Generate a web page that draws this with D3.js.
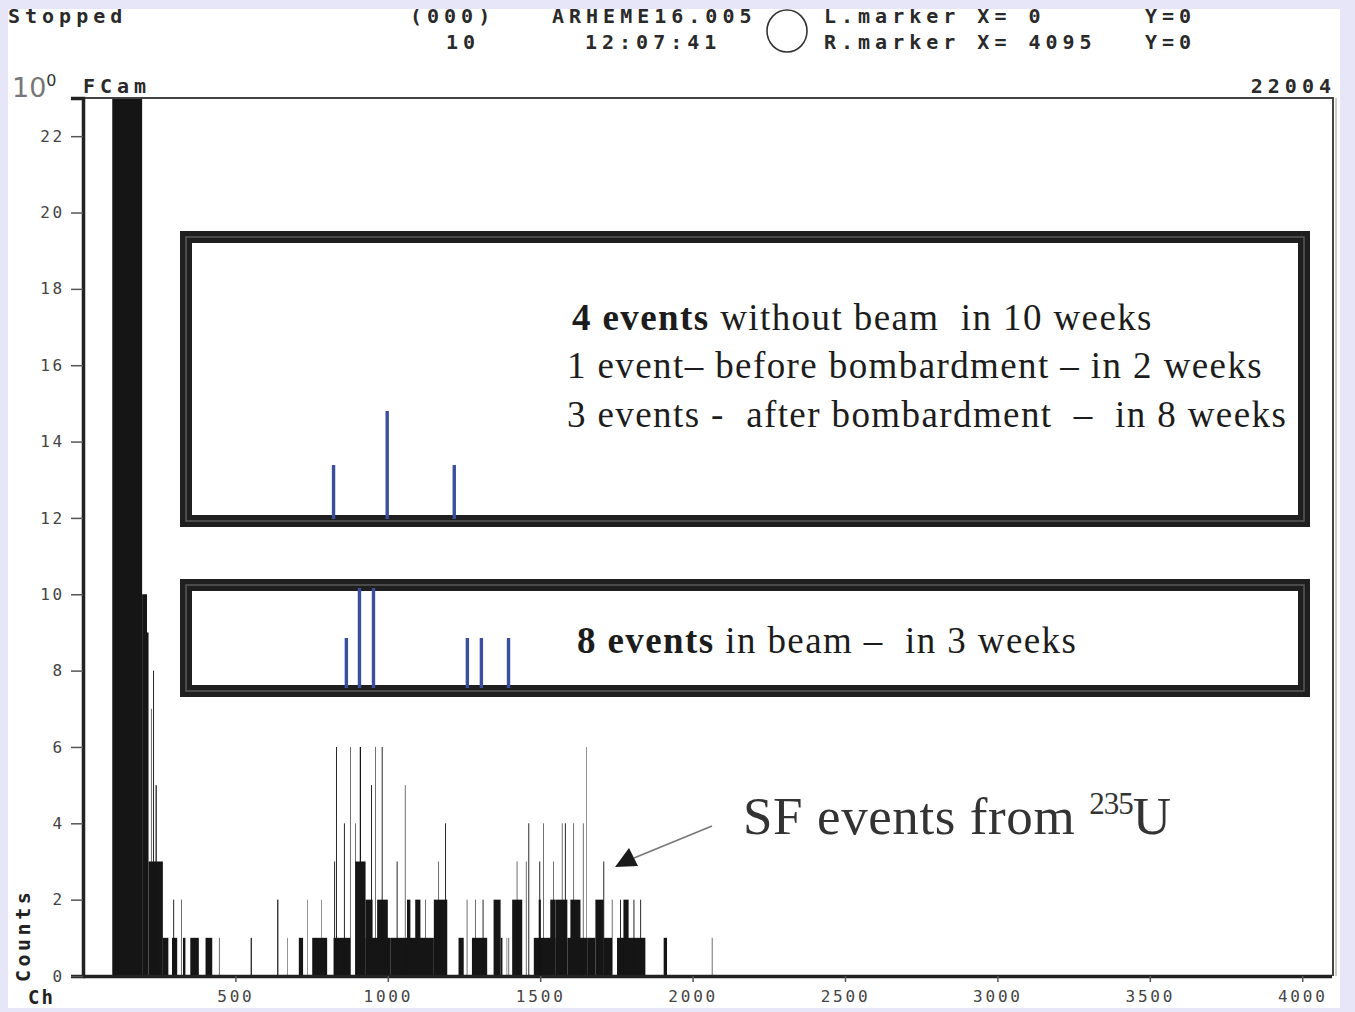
<!DOCTYPE html>
<html>
<head>
<meta charset="utf-8">
<script src="https://cdn.jsdelivr.net/npm/d3@7"></script>
<style>
  html, body { margin: 0; padding: 0; background: #e6e6f8; }
  #chart { position: absolute; left: 0; top: 0; }
</style>
</head>
<body>
<div id="chart"></div>
<script>
// histogram segments: [channel start, channel end, counts]
const spectrumSegments = [
  [96, 194, 180], [194, 210, 10], [210, 215, 9], [215, 262, 3], [223, 225, 7],
  [230, 233, 8], [238, 242, 5], [262, 280, 1], [292, 309, 1], [296, 299, 2],
  [322, 324, 2], [328, 336, 1], [352, 380, 1], [402, 424, 1], [446, 448, 1],
  [550, 554, 1], [637, 641, 2], [671, 672.5, 1], [708, 722, 1], [735, 736.5, 2],
  [752, 801, 1], [781, 782.5, 2], [822, 877, 1], [824, 827, 3], [830, 833, 6],
  [856, 859, 4], [877, 879, 6], [893, 895, 4], [893, 927, 3], [908, 912, 6],
  [927, 1008, 1], [927, 950, 2], [965, 1000, 2], [945, 948, 5], [958, 960, 6],
  [980, 983, 6], [1008, 1151, 1], [1029, 1032, 3], [1056, 1058, 5], [1063, 1074, 2],
  [1090, 1107, 2], [1123, 1125, 2], [1151, 1195, 2], [1166, 1168, 3], [1188, 1191, 4],
  [1232, 1249, 1], [1259, 1261, 2], [1276, 1326, 1], [1287, 1289, 2], [1311, 1314, 2],
  [1347, 1370, 2], [1370, 1376, 1], [1390, 1391.5, 1], [1396, 1398, 1], [1408, 1441, 2],
  [1423, 1425, 3], [1453, 1455, 3], [1461, 1464, 4], [1479, 1550, 1], [1495, 1502, 2],
  [1497, 1500, 3], [1510, 1512, 4], [1533, 1550, 2], [1543, 1545, 3], [1550, 1589, 2],
  [1571, 1573, 4], [1581, 1584, 4], [1589, 1654, 1], [1599, 1632, 2], [1609, 1611, 4],
  [1640, 1642, 4], [1651, 1652.5, 6], [1654, 1681, 1], [1681, 1708, 2], [1707, 1710, 3],
  [1708, 1736, 1], [1735, 1737, 2], [1752, 1845, 1], [1762, 1765, 2], [1773, 1790, 2],
  [1806, 1809, 2], [1828, 1831, 2], [1905, 1916, 1], [2063, 2065, 1]
];

// events shown in the two inset boxes (channel, counts)
const noBeamChannels = [822, 998, 1218];
const noBeamCounts = [1, 2, 1];
const inBeamChannels = [864, 907, 953, 1261, 1307, 1396];
const inBeamCounts = [1, 2, 2, 1, 1, 1];

const yTicks = [0, 2, 4, 6, 8, 10, 12, 14, 16, 18, 20, 22];
const xTicks = [500, 1000, 1500, 2000, 2500, 3000, 3500, 4000];

const W = 1355, H = 1012;
const plot = { left: 83, right: 1331.5, top: 98, bottom: 976 };

const svg = d3.select("#chart").append("svg")
    .attr("width", W)
    .attr("height", H);

// white panel inside lavender frame
svg.append("rect")
    .attr("x", 8).attr("y", 0)
    .attr("width", 1332).attr("height", 1008)
    .attr("fill", "#fff");

const x = d3.scaleLinear().domain([0, 4096]).range([plot.left, plot.right]);
const y = d3.scaleLinear().domain([0, 23]).range([plot.bottom, plot.top]);

svg.append("clipPath").attr("id", "plotClip")
  .append("rect")
    .attr("x", plot.left).attr("y", plot.top)
    .attr("width", plot.right - plot.left).attr("height", plot.bottom - plot.top);

// header text, dot-matrix style
const mono = "'DejaVu Sans Mono', monospace";
function header(txt, px, py, anchor) {
  svg.append("text")
      .attr("x", px).attr("y", py)
      .attr("text-anchor", anchor || "start")
      .style("font-family", mono)
      .style("font-weight", "bold")
      .style("font-size", "20px")
      .style("letter-spacing", "5px")
      .style("fill", "#2a2a2a")
      .text(txt);
}
header("Stopped", 8, 23);
header("(000)", 410, 23);
header("10", 446, 49);
header("ARHEME16.005", 552, 23);
header("12:07:41", 585, 49);
header("L.marker  X= 0", 824, 23);
header("R.marker  X= 4095", 824, 49);
header("Y=0", 1145, 23);
header("Y=0", 1145, 49);
header("FCam", 83, 93);
header("22004", 1336, 93, "end");

svg.append("ellipse")
    .attr("cx", 787).attr("cy", 31)
    .attr("rx", 20).attr("ry", 21)
    .attr("fill", "none")
    .attr("stroke", "#333")
    .attr("stroke-width", 1.6);

const tenZero = svg.append("text")
    .attr("x", 12).attr("y", 97)
    .style("font-family", "'DejaVu Sans', sans-serif")
    .style("font-size", "27px")
    .style("fill", "#777");
tenZero.append("tspan").text("10");
tenZero.append("tspan").attr("dy", -11).style("font-size", "16px").style("fill", "#333").text("0");

// histogram
svg.append("g")
    .attr("clip-path", "url(#plotClip)")
  .selectAll("rect")
  .data(spectrumSegments)
  .join("rect")
    .attr("x", d => x(d[0]))
    .attr("width", d => x(d[1]) - x(d[0]))
    .attr("y", d => y(Math.min(d[2], 24)))
    .attr("height", d => y(0) - y(Math.min(d[2], 24)))
    .attr("fill", "#151515");

// frame top & right
svg.append("path")
    .attr("d", `M${plot.left},${plot.top}H1333V${plot.bottom}`)
    .attr("fill", "none")
    .attr("stroke", "#444")
    .attr("stroke-width", 2);
svg.append("line")
    .attr("x1", 1336).attr("x2", 1336).attr("y1", plot.top).attr("y2", plot.bottom)
    .attr("stroke", "#999").attr("stroke-width", 1);

// axes
const tickFont = g => g.selectAll("text")
    .style("font-family", mono)
    .style("font-size", "16px")
    .style("letter-spacing", "2.8px")
    .style("fill", "#444");

svg.append("g")
    .attr("transform", `translate(${plot.left},0)`)
    .call(d3.axisLeft(y).tickValues(yTicks).tickFormat(d3.format("d")).tickSize(12).tickPadding(6))
    .call(g => g.select(".domain").attr("stroke", "#222").attr("stroke-width", 3.5))
    .call(g => g.selectAll(".tick line").attr("stroke", "#555").attr("stroke-width", 1.5))
    .call(tickFont);

svg.append("g")
    .attr("transform", `translate(0,${plot.bottom})`)
    .call(d3.axisBottom(x).tickValues(xTicks).tickFormat(d3.format("d")).tickSize(6).tickSizeOuter(0).tickPadding(9))
    .call(g => g.select(".domain").attr("stroke", "#222").attr("stroke-width", 3.5))
    .call(g => g.selectAll(".tick line").attr("stroke", "#555").attr("stroke-width", 1.5))
    .call(tickFont);

svg.append("text")
    .attr("transform", "translate(30,982) rotate(-90)")
    .style("font-family", mono)
    .style("font-weight", "bold")
    .style("font-size", "20px")
    .style("letter-spacing", "3.5px")
    .style("fill", "#222")
    .text("Counts");
svg.append("text")
    .attr("x", 28).attr("y", 1004)
    .style("font-family", mono)
    .style("font-weight", "bold")
    .style("font-size", "19px")
    .style("letter-spacing", "2px")
    .style("fill", "#222")
    .text("Ch");

// inset boxes
const boxes = [
  { top: 237, bottom: 521 },
  { top: 585, bottom: 691 }
];
boxes.forEach(b => {
  const r = { x: 186, y: b.top, w: 1118, h: b.bottom - b.top };
  svg.append("rect")
      .attr("x", r.x).attr("y", r.y).attr("width", r.w).attr("height", r.h)
      .attr("fill", "#fff")
      .attr("stroke", "#1f1f1f")
      .attr("stroke-width", 12);
  svg.append("rect")
      .attr("x", r.x).attr("y", r.y).attr("width", r.w).attr("height", r.h)
      .attr("fill", "none")
      .attr("stroke", "#5a5a5a")
      .attr("stroke-width", 1.5);
});

// event sticks in the insets
const unitNoBeam = 54, unitInBeam = 50;
function eventSticks(chs, counts, base, unit) {
  svg.append("g").selectAll("line")
    .data(chs.map((c, i) => [c, counts[i]]))
    .join("line")
      .attr("x1", d => x(d[0])).attr("x2", d => x(d[0]))
      .attr("y1", base)
      .attr("y2", d => base - d[1] * unit)
      .attr("stroke", "#3c4f9e")
      .attr("stroke-width", 3.4);
}
eventSticks(noBeamChannels, noBeamCounts, 519, unitNoBeam);
eventSticks(inBeamChannels, inBeamCounts, 688, unitInBeam);

// box texts
const serif = "'Liberation Serif', 'Times New Roman', serif";
function boxLine(parts, px, py) {
  const t = svg.append("text")
      .attr("x", px).attr("y", py)
      .style("font-family", serif)
      .style("font-size", "37px")
      .style("letter-spacing", "1.4px")
      .style("fill", "#1c1c1c")
      .attr("xml:space", "preserve");
  parts.forEach(p => t.append("tspan")
      .style("font-weight", p[1] ? "bold" : "normal")
      .text(p[0]));
}
boxLine([["4 events", true], [" without beam  in 10 weeks", false]], 572, 330);
boxLine([["1 event\u2013 before bombardment \u2013 in 2 weeks", false]], 567, 378);
boxLine([["3 events -  after bombardment  \u2013  in 8 weeks", false]], 567, 427);
boxLine([["8 events", true], [" in beam \u2013  in 3 weeks", false]], 577, 653);

// SF annotation
const sf = svg.append("text")
    .attr("x", 743).attr("y", 834)
    .style("font-family", serif)
    .style("font-size", "53px")
    .style("letter-spacing", "0.6px")
    .style("fill", "#333");
sf.append("tspan").text("SF events from ");
sf.append("tspan").attr("dy", -20).style("font-size", "31px").style("letter-spacing", "-1px").text("235");
sf.append("tspan").attr("dy", 20).text("U");

svg.append("line")
    .attr("x1", 712).attr("y1", 826)
    .attr("x2", 634).attr("y2", 858)
    .attr("stroke", "#777")
    .attr("stroke-width", 1.5);
svg.append("path")
    .attr("d", "M615,867 L629,848 L638,866 Z")
    .attr("fill", "#1a1a1a");

// lavender edge bands
svg.append("rect").attr("x", 0).attr("y", 0).attr("width", W).attr("height", 9).attr("fill", "#e6e6f8");
</script>
</body>
</html>
